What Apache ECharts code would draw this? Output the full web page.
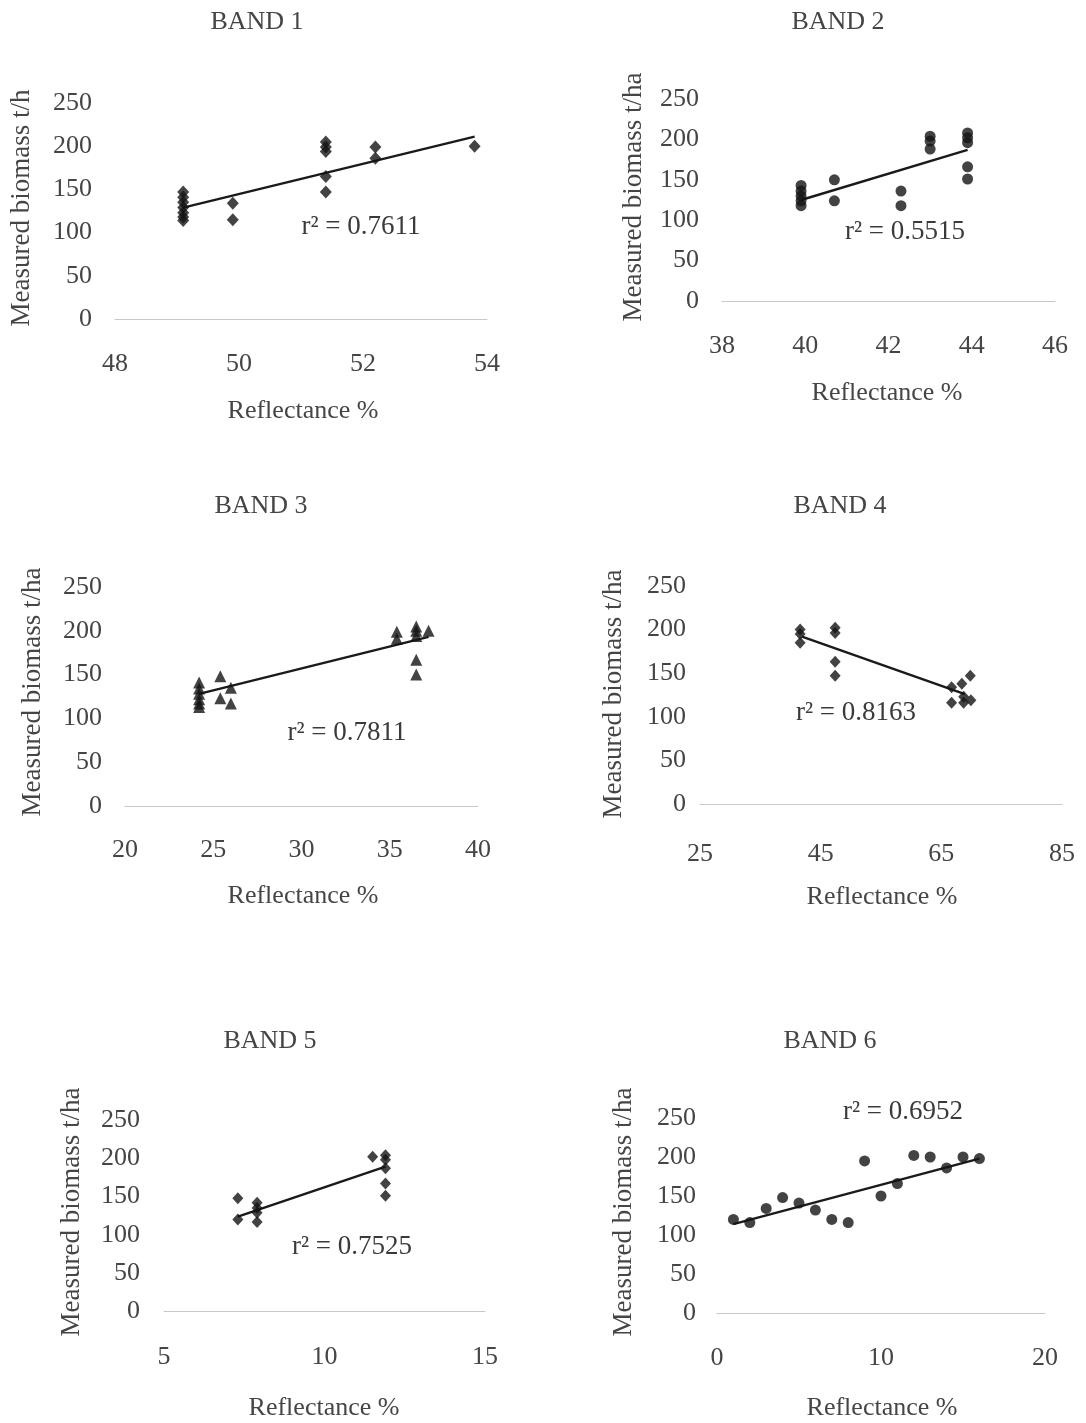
<!DOCTYPE html>
<html><head><meta charset="utf-8">
<script src="https://cdn.jsdelivr.net/npm/echarts/dist/echarts.min.js"></script>
<style>html,body{margin:0;padding:0;background:#fff}#c{width:1086px;height:1423px}</style>
</head><body><div id="c"></div>
<script>
// ---------- data ----------
const yTicks = [0, 50, 100, 150, 200, 250];

const xTicks1 = [48, 50, 52, 54];
const band1X = [49.1,49.1,49.1,49.1,49.1,49.1,49.1, 49.9,49.9, 51.4,51.4,51.4,51.4,51.4, 52.2,52.2, 53.8];
const band1Y = [147,141,135,129,123,118,114, 134,115, 205,199,194,165,147, 199,186, 200];
const trend1X = [49.1, 53.8];
const trend1Y = [129, 211];

const xTicks2 = [38, 40, 42, 44, 46];
const band2X = [39.9,39.9,39.9,39.9,39.9, 40.7,40.7, 42.3,42.3, 43.0,43.0,43.0, 43.9,43.9,43.9,43.9,43.9];
const band2Y = [143,136,130,124,118, 150,124, 136,118, 204,198,188, 208,202,196,166,151];
const trend2X = [39.9, 43.9];
const trend2Y = [125, 187];

const xTicks3 = [20, 25, 30, 35, 40];
const band3X = [24.2,24.2,24.2,24.2,24.2,24.2, 25.4,25.4, 26.0,26.0, 35.4,35.4, 36.5,36.5,36.5,36.5,36.5, 37.2];
const band3Y = [141,134,128,122,117,113, 148,123, 135,117, 199,191, 205,200,194,167,150, 200];
const trend3X = [24.2, 37.2];
const trend3Y = [128, 193];

const xTicks4 = [25, 45, 65, 85];
const band4X = [41.6,41.6,41.6, 47.4,47.4,47.4,47.4, 66.7,66.7,68.4,68.7,68.7,69.8,69.9];
const band4Y = [200,195,185, 202,196,163,147, 134,116,138,123,116,147,119];
const trend4X = [41.9, 68.9];
const trend4Y = [192, 126];

const xTicks5 = [5, 10, 15];
const band5X = [7.3,7.3, 7.9,7.9,7.9,7.9, 11.5, 11.9,11.9,11.9,11.9,11.9];
const band5Y = [148,120, 142,135,129,117, 202, 204,198,187,167,151];
const trend5X = [7.3, 11.9];
const trend5Y = [124, 189];

const xTicks6 = [0, 10, 20];
const band6X = [1,2,3,4,5,6,7,8,9,10,11,12,13,14,15,16];
const band6Y = [120,116,134,148,141,132,120,116,195,150,166,202,200,186,200,198];
const trend6X = [1, 16];
const trend6Y = [114, 198];

const titles = ['BAND 1','BAND 2','BAND 3','BAND 4','BAND 5','BAND 6'];
const r2Labels = ['r² = 0.7611','r² = 0.5515','r² = 0.7811','r² = 0.8163','r² = 0.7525','r² = 0.6952'];
const yNames = ['Measured biomass t/h','Measured biomass t/ha','Measured biomass t/ha','Measured biomass t/ha','Measured biomass t/ha','Measured biomass t/ha'];
const xName = 'Reflectance %';

// ---------- layout ----------
const FONT = '"Liberation Serif", "Times New Roman", serif';
const TXT = '#454545';
const panels = [
  {xs:band1X, ys:band1Y, tx:trend1X, ty:trend1Y, xt:xTicks1, sym:'diamond', size:[12,13],
   grid:{left:115, top:103, width:372, height:216}, lm:23, xm:32,
   title:[257,22], yn:[22,208], xn:[303,411], r2:[361,227]},
  {xs:band2X, ys:band2Y, tx:trend2X, ty:trend2Y, xt:xTicks2, sym:'circle', size:11,
   grid:{left:722, top:99, width:333, height:202}, lm:23, xm:32,
   title:[838,22], yn:[634,197], xn:[887,393], r2:[905,232]},
  {xs:band3X, ys:band3Y, tx:trend3X, ty:trend3Y, xt:xTicks3, sym:'triangle', size:[12,12],
   grid:{left:125, top:587, width:353, height:219}, lm:23, xm:31,
   title:[261,506], yn:[33,692], xn:[303,896], r2:[347,733]},
  {xs:band4X, ys:band4Y, tx:trend4X, ty:trend4Y, xt:xTicks4, sym:'diamond', size:[11,12],
   grid:{left:700, top:586, width:362, height:218}, lm:14, xm:37,
   title:[840,506], yn:[614,694], xn:[882,897], r2:[856,713]},
  {xs:band5X, ys:band5Y, tx:trend5X, ty:trend5Y, xt:xTicks5, sym:'diamond', size:[11,12],
   grid:{left:164, top:1120, width:321, height:191.5}, lm:24, xm:33,
   title:[270,1041], yn:[72,1212], xn:[324,1408], r2:[352,1247]},
  {xs:band6X, ys:band6Y, tx:trend6X, ty:trend6Y, xt:xTicks6, sym:'circle', size:11,
   grid:{left:717, top:1118, width:328, height:195}, lm:21, xm:32,
   title:[830,1041], yn:[624,1212], xn:[882,1408], r2:[903,1112]}
];

const grid = [], xAxis = [], yAxis = [], series = [], graphic = [];
panels.forEach((p, i) => {
  grid.push(Object.assign({containLabel:false}, p.grid));
  const xmin = p.xt[0], xmax = p.xt[p.xt.length-1], xint = p.xt[1]-p.xt[0];
  xAxis.push({type:'value', gridIndex:i, min:xmin, max:xmax, interval:xint,
    axisLine:{show:true, onZero:false, lineStyle:{color:'#c8c8c8', width:1}},
    axisTick:{show:false}, splitLine:{show:false},
    axisLabel:{margin:p.xm, fontFamily:FONT, fontSize:26, color:TXT}});
  yAxis.push({type:'value', gridIndex:i, min:yTicks[0], max:yTicks[yTicks.length-1], interval:yTicks[1]-yTicks[0],
    axisLine:{show:false}, axisTick:{show:false}, splitLine:{show:false},
    axisLabel:{margin:p.lm, fontFamily:FONT, fontSize:26, color:TXT}});
  series.push({type:'scatter', xAxisIndex:i, yAxisIndex:i, symbol:p.sym, symbolSize:p.size,
    itemStyle:{color:'#141414'}, data:p.xs.map((x,k)=>[x,p.ys[k]]), z:3});
  series.push({type:'line', xAxisIndex:i, yAxisIndex:i, symbol:'none', silent:true,
    lineStyle:{color:'#1a1a1a', width:2.4}, data:p.tx.map((x,k)=>[x,p.ty[k]]), z:2});
  graphic.push({type:'text', x:p.title[0], y:p.title[1],
    style:{text:titles[i], font:'26px '+FONT, fill:TXT, align:'center', verticalAlign:'middle'}});
  graphic.push({type:'text', x:p.yn[0], y:p.yn[1], rotation:Math.PI/2,
    style:{text:yNames[i], font:'27px '+FONT, fill:TXT, align:'center', verticalAlign:'middle'}});
  graphic.push({type:'text', x:p.xn[0], y:p.xn[1],
    style:{text:xName, font:'26px '+FONT, fill:TXT, align:'center', verticalAlign:'middle'}});
  graphic.push({type:'text', x:p.r2[0], y:p.r2[1],
    style:{text:r2Labels[i], font:'27px '+FONT, fill:'#3a3a3a', align:'center', verticalAlign:'middle'}});
});

const chart = echarts.init(document.getElementById('c'), null, {renderer:'canvas'});
chart.setOption({backgroundColor:'#fff', animation:false, grid, xAxis, yAxis, series, graphic});
</script>
</body></html>
